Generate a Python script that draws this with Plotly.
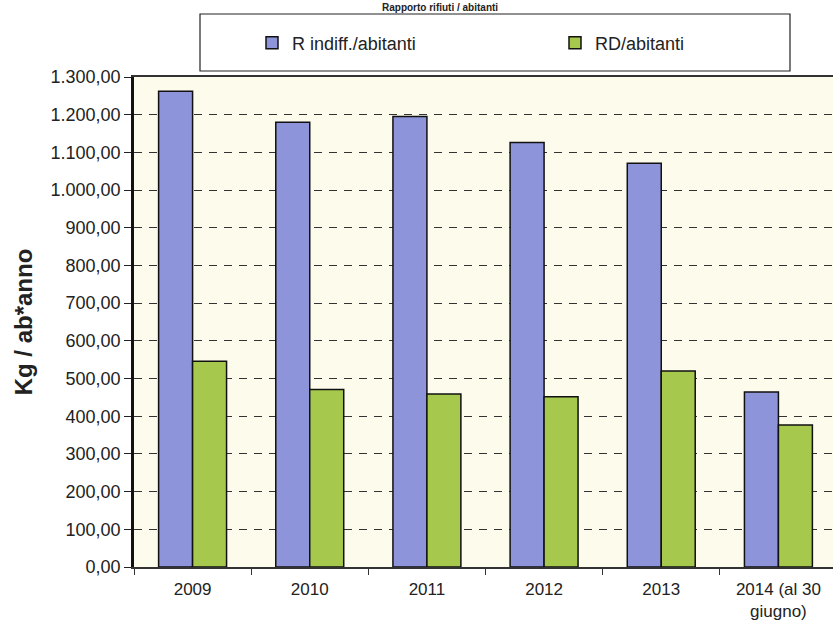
import plotly.graph_objects as go

categories = ["2009", "2010", "2011", "2012", "2013", "2014 (al 30<br>giugno)"]
r_indiff = [1262, 1180, 1195, 1126, 1071, 464]
rd = [546, 471, 459, 452, 520, 377]
series_names = ["R indiff./abitanti", "RD/abitanti"]
y_ticks = list(range(0, 1301, 100))

W, H = 833, 625
ML, MR, MT, MB = 134, 0, 77, 58

fig = go.Figure()
fig.add_trace(go.Bar(x=categories, y=r_indiff, name=series_names[0],
                     marker=dict(color="#8E94DA", line=dict(color="#111111", width=1.5))))
fig.add_trace(go.Bar(x=categories, y=rd, name=series_names[1],
                     marker=dict(color="#A6C84C", line=dict(color="#111111", width=1.5))))

font = "Liberation Sans, Arial, sans-serif"

fig.update_layout(
    width=W, height=H,
    margin=dict(l=ML, r=MR, t=MT, b=MB, pad=0),
    paper_bgcolor="white",
    plot_bgcolor="#FDFBEC",
    separators=",.",
    barmode="group",
    bargap=0.42,
    bargroupgap=0,
    font=dict(family=font, size=17, color="#222222"),
    showlegend=True,
    legend=dict(orientation="h", xref="container", yref="container",
                x=252 / W, y=1 - 43 / H, xanchor="left", yanchor="middle",
                bgcolor="rgba(0,0,0,0)", borderwidth=0,
                entrywidth=258, entrywidthmode="pixels",
                itemwidth=30, font=dict(size=18, color="#222222")),
    xaxis=dict(range=[-0.5, 5.5 - 4 / 117.2], showline=True, linecolor="#333333", linewidth=1.5,
               mirror=True, ticks="outside", tickson="boundaries", ticklen=6,
               tickcolor="#333333", showgrid=False, tickfont=dict(size=17),
               ticklabelstandoff=6),
    yaxis=dict(range=[0, 1300], tickvals=y_ticks, tickformat=",.2f",
               showline=True, linecolor="#111111", linewidth=2.5,
               ticks="outside", ticklen=7, tickcolor="#222222",
               showgrid=True, gridcolor="#333333", gridwidth=1, griddash="8px,7px",
               zeroline=False, tickfont=dict(size=18),
               title=dict(text="<b>Kg / ab*anno</b>", font=dict(size=24, color="#222222"), standoff=12)),
    shapes=[dict(type="rect", xref="paper", yref="paper",
                 x0=(200 - ML) / (W - ML - MR), x1=(790 - ML) / (W - ML - MR),
                 y0=1 + (MT - 71) / (H - MT - MB), y1=1 + (MT - 14) / (H - MT - MB),
                 line=dict(color="#222222", width=1.2), fillcolor="rgba(0,0,0,0)", layer="above")],
    annotations=[dict(text="<b>Rapporto rifiuti / abitanti</b>", xref="paper", yref="paper",
                      x=(440 - ML) / (W - ML - MR), y=1 + (MT - 0) / (H - MT - MB),
                      xanchor="center", yanchor="top", showarrow=False,
                      font=dict(size=10, color="#222222"))],
)

fig.write_html("out.html")
